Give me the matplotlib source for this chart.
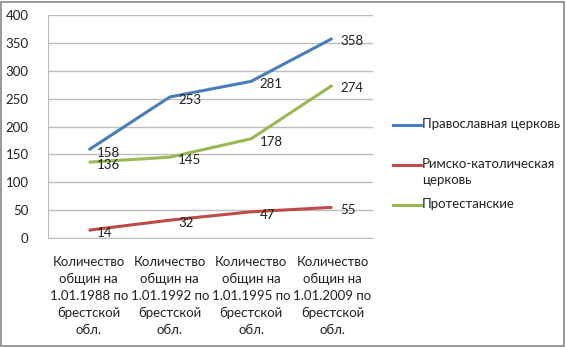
import matplotlib.pyplot as plt
from matplotlib.patches import Rectangle

categories = [
    "Количество\nобщин на\n1.01.1988 по\nбрестской\nобл.",
    "Количество\nобщин на\n1.01.1992 по\nбрестской\nобл.",
    "Количество\nобщин на\n1.01.1995 по\nбрестской\nобл.",
    "Количество\nобщин на\n1.01.2009 по\nбрестской\nобл.",
]
orthodox = [158, 253, 281, 358]
catholic = [14, 32, 47, 55]
protestant = [136, 145, 178, 274]
series_names = ["Православная церковь", "Римско-католическая\nцерковь", "Протестанские"]
colors = ["#4A7EBB", "#BE4B48", "#98B954"]

plt.rcParams['font.family'] = ['Lato', 'DejaVu Sans']

W, H = 566, 347
fig = plt.figure(figsize=(W / 100, H / 100), dpi=100)
ax = fig.add_axes([48 / W, 1 - 238 / H, (373 - 48) / W, (238 - 15) / H])

x = list(range(len(categories)))
for vals, c in zip([orthodox, catholic, protestant], colors):
    ax.plot(x, vals, color=c, linewidth=2.2, solid_capstyle='butt')
    for xi, v in zip(x, vals):
        ax.annotate(str(v), (xi, v), xytext=(6, -2), textcoords='offset points',
                    ha='left', va='center', fontsize=9.5, color='#222222')

ax.set_xlim(-0.5, 3.5)
ax.set_ylim(0, 400)
ax.set_yticks(range(0, 401, 50))
ax.yaxis.grid(True, color='#BDBDBD', linewidth=1)
ax.set_axisbelow(True)
ax.set_xticks(x)
ax.set_xticklabels(categories, fontsize=9.2, linespacing=1.5)
ax.tick_params(axis='both', length=0, labelsize=9.5, colors='#222222')
ax.tick_params(axis='x', pad=13)
ax.tick_params(axis='y', pad=14)
for s in ['top', 'right']:
    ax.spines[s].set_visible(False)
ax.spines['left'].set_color('#BDBDBD')
ax.spines['bottom'].set_color('#BDBDBD')

# legend drawn by hand to the right of the plot
legend_y = [125, 165, 205]
for name, c, ly in zip(series_names, colors, legend_y):
    fig.add_artist(plt.Line2D([393 / W, 421 / W], [1 - ly / H] * 2, color=c, linewidth=2.2))
    fig.text(422 / W, 1 - (ly - 7) / H, name, fontsize=9.5, va='top', ha='left',
             color='#222222', linespacing=1.45)

# outer frame
fig.add_artist(Rectangle((1 / W, 1 / H), 1 - 3 / W, 1 - 3 / H, transform=fig.transFigure,
                         fill=False, edgecolor='#888888', linewidth=1.2))

fig.savefig("out.png", dpi=100)
